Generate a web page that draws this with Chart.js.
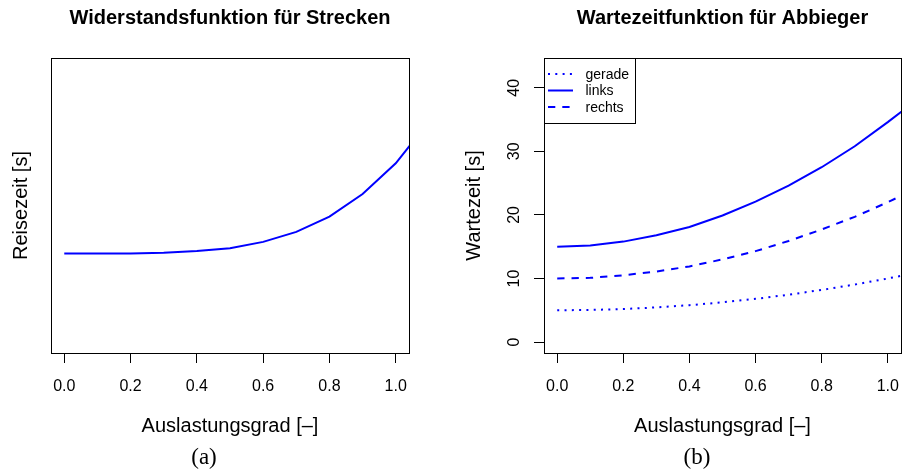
<!DOCTYPE html>
<html><head><meta charset="utf-8">
<script src="https://cdn.jsdelivr.net/npm/chart.js@4.4.0/dist/chart.umd.min.js"></script>
<style>
html,body{margin:0;padding:0;background:#fff;}
#wrap{position:relative;width:902px;height:473px;overflow:hidden;background:#fff;}
.panel{position:absolute;top:0;width:451px;height:473px;}
.cap{position:absolute;width:100px;text-align:center;font-family:"Liberation Serif",serif;font-size:23px;line-height:24px;color:#000;}
</style></head><body>
<div id="wrap">
 <div class="panel" style="left:0"><canvas id="c1" width="451" height="473"></canvas></div>
 <div class="panel" style="left:451px"><canvas id="c2" width="451" height="473"></canvas></div>
 <div class="cap" style="left:154px;top:445px">(a)</div>
 <div class="cap" style="left:647px;top:445px">(b)</div>
</div>
<script>
// ---- data ----
const auslastung = [0, 0.1, 0.2, 0.3, 0.4, 0.5, 0.6, 0.7, 0.8, 0.9, 1.0, 1.1];
const reisezeit  = [1.00, 1.00, 1.00, 1.01, 1.03, 1.06, 1.13, 1.24, 1.41, 1.66, 2.00, 2.46];
const gerade     = [5.0, 5.05, 5.2, 5.45, 5.8, 6.25, 6.8, 7.45, 8.2, 9.05, 10.0, 11.05];
const links      = [15.0, 15.2, 15.8, 16.8, 18.1, 19.9, 22.1, 24.6, 27.5, 30.8, 34.6, 38.6];
const rechts     = [10.0, 10.1, 10.5, 11.1, 11.9, 13.0, 14.3, 15.9, 17.7, 19.7, 22.0, 24.5];
const xTicks     = [0, 0.2, 0.4, 0.6, 0.8, 1.0];
const yTicksB    = [0, 10, 20, 30, 40];

const FONT = '"Liberation Sans", Arial, Helvetica, sans-serif';
Chart.defaults.color = '#000';
Chart.defaults.font.family = FONT;

const pts = ys => auslastung.map((x, i) => ({x: x, y: ys[i]}));

const boxPlugin = {
  id: 'box',
  afterDatasetsDraw(chart) {
    const {ctx, chartArea: a} = chart;
    ctx.save();
    ctx.strokeStyle = '#000';
    ctx.lineWidth = 1;
    const l = Math.round(a.left) + 0.5, t = Math.round(a.top) + 0.5;
    const r = Math.min(Math.round(a.right) + 0.5, chart.width - 0.5), b = Math.round(a.bottom) + 0.5;
    ctx.strokeRect(l, t, r - l, b - t);
    ctx.restore();
  }
};

const legendPlugin = {
  id: 'rlegend',
  afterDraw(chart) {
    const {ctx, chartArea: a} = chart;
    const x0 = Math.round(a.left) + 0.5, y0 = Math.round(a.top) + 0.5;
    ctx.save();
    ctx.fillStyle = '#fff';
    ctx.fillRect(x0, y0, 91, 65);
    ctx.strokeStyle = '#000';
    ctx.lineWidth = 1;
    ctx.strokeRect(x0, y0, 91, 65);
    chart.data.datasets.forEach((ds, i) => {
      const y = a.top + 16 + i * 16.5;
      ctx.strokeStyle = ds.borderColor;
      ctx.lineWidth = ds.borderWidth;
      ctx.setLineDash(ds.borderDash || []);
      ctx.beginPath();
      ctx.moveTo(a.left + 4, y);
      ctx.lineTo(a.left + 29, y);
      ctx.stroke();
      ctx.setLineDash([]);
      ctx.fillStyle = '#000';
      ctx.font = '14px ' + FONT;
      ctx.textBaseline = 'middle';
      ctx.textAlign = 'left';
      ctx.fillText(ds.label, a.left + 41.5, y + 1);
    });
    ctx.restore();
  }
};

const xScale = () => ({
  type: 'linear', position: 'bottom', min: -0.04, max: 1.04,
  afterBuildTicks: s => { s.ticks = xTicks.map(v => ({value: v})); },
  afterFit: s => { s.height = 120; s.paddingLeft = 0; s.paddingRight = 0; },
  grid: {display: true, drawOnChartArea: false, drawTicks: true, tickLength: 10, color: '#000', lineWidth: 1},
  border: {display: false},
  ticks: {padding: 14, font: {size: 16}, color: '#000', autoSkip: false, maxRotation: 0,
          callback: v => Number(v).toFixed(1)},
  title: {display: true, text: 'Auslastungsgrad [–]', font: {size: 20}, color: '#000', padding: {top: 0, bottom: 35}}
});

new Chart(document.getElementById('c1'), {
  type: 'line',
  data: {datasets: [{label: 'Reisezeit', data: pts(reisezeit), borderColor: '#0000ff', borderWidth: 2,
                     pointRadius: 0, tension: 0, fill: false}]},
  options: {
    responsive: false, animation: false, devicePixelRatio: 1,
    layout: {padding: {left: 0, right: 42, top: 0, bottom: 0}},
    plugins: {
      legend: {display: false}, tooltip: {enabled: false},
      title: {display: true, fullSize: false, text: 'Widerstandsfunktion für Strecken',
              font: {size: 20, weight: 'bold'}, color: '#000', padding: {top: 6.5, bottom: 27.5}}
    },
    scales: {
      x: xScale(),
      y: {type: 'linear', min: -0.10, max: 3.165,
          afterFit: s => { s.width = 51; s.paddingTop = 0; s.paddingBottom = 0; },
          grid: {display: false}, border: {display: false}, ticks: {display: false},
          title: {display: true, text: 'Reisezeit [s]', font: {size: 20}, color: '#000', padding: {top: 9, bottom: 0}}}
    }
  },
  plugins: [boxPlugin]
});

new Chart(document.getElementById('c2'), {
  type: 'line',
  data: {datasets: [
    {label: 'gerade', data: pts(gerade), borderColor: '#0000ff', borderWidth: 2, borderDash: [2, 5.3],
     pointRadius: 0, tension: 0, fill: false},
    {label: 'links', data: pts(links), borderColor: '#0000ff', borderWidth: 2,
     pointRadius: 0, tension: 0, fill: false},
    {label: 'rechts', data: pts(rechts), borderColor: '#0000ff', borderWidth: 2, borderDash: [7.3, 7],
     pointRadius: 0, tension: 0, fill: false}
  ]},
  options: {
    responsive: false, animation: false, devicePixelRatio: 1,
    layout: {padding: {left: 0, right: 1, top: 0, bottom: 0}},
    plugins: {
      legend: {display: false}, tooltip: {enabled: false},
      title: {display: true, fullSize: false, text: 'Wartezeitfunktion für Abbieger',
              font: {size: 20, weight: 'bold'}, color: '#000', padding: {top: 6.5, bottom: 27.5}}
    },
    scales: {
      x: xScale(),
      y: {type: 'linear', min: -1.72, max: 44.68,
          afterBuildTicks: s => { s.ticks = yTicksB.map(v => ({value: v})); },
          afterFit: s => { s.width = 93; s.paddingTop = 0; s.paddingBottom = 0; },
          grid: {display: true, drawOnChartArea: false, drawTicks: true, tickLength: 10, color: '#000', lineWidth: 1},
          border: {display: false},
          ticks: {minRotation: 90, maxRotation: 90, crossAlign: 'center', padding: 10.6,
                  font: {size: 16}, color: '#000', autoSkip: false, callback: v => String(v)},
          title: {display: true, text: 'Wartezeit [s]', font: {size: 20}, color: '#000', padding: {top: 11, bottom: 0}}}
    }
  },
  plugins: [boxPlugin, legendPlugin]
});
</script>
</body></html>
